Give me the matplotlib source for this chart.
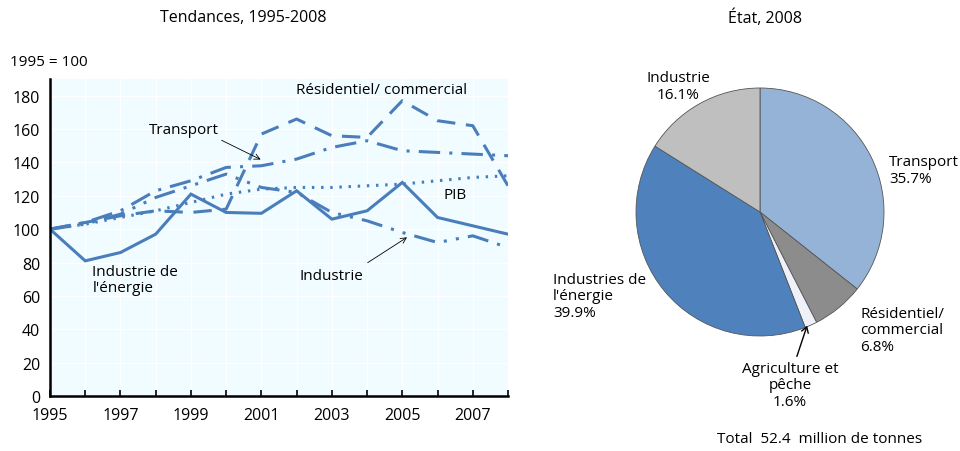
import numpy as np
import matplotlib
matplotlib.use("Agg")
import matplotlib.pyplot as plt
from matplotlib.patches import FancyArrowPatch

plt.rcParams['font.family'] = ['Open Sans', 'DejaVu Sans']

years = np.arange(1995, 2009)
energie = [100, 81, 86, 97, 121, 110, 109.5, 123, 106, 111, 128, 107, 102, 97]
residentiel = [100, 104, 108, 111, 110, 112, 157, 166, 156, 155, 177, 165, 162, 126]
transport = [100, 104, 111, 123, 129, 137, 138, 142, 149, 153, 147, 146, 145, 144]
industrie = [100, 103, 109, 119, 126, 133, 125, 122, 110, 105, 98, 92, 96, 89]
pib = [100, 103, 107, 111, 116, 121, 124, 125, 125, 126, 127, 129, 131, 132]

pie_labels = ["Transport", "Résidentiel/\ncommercial", "Agriculture et\npêche",
              "Industries de\nl'énergie", "Industrie"]
pie_values = [35.7, 6.8, 1.6, 39.9, 16.1]
pie_colors = ["#95b3d7", "#8c8c8c", "#eef1f8", "#4f81bd", "#bfbfbf"]

blue = "#4a7ebb"
W, H = 960, 452
fig = plt.figure(figsize=(W / 100, H / 100), dpi=100)


def px(x, y):
    return x / W, 1 - y / H


# ---- left panel: trends
ax = fig.add_axes([50 / W, 1 - 397 / H, 458 / W, 317 / H])
ax.set_facecolor("#f0fcff")
ax.plot(years, energie, color=blue, lw=2.2, solid_joinstyle='miter')
ax.plot(years, residentiel, color=blue, lw=2.2, dashes=(6, 3.5))
ax.plot(years, transport, color=blue, lw=2.2, dashes=(7, 3, 1, 3))
ax.plot(years, industrie, color=blue, lw=2.2, dashes=(7, 3, 1, 3, 1, 3))
ax.plot(years, pib, color=blue, lw=2.2, dashes=(0.8, 2.2))

ax.set_xlim(1995, 2008)
ax.set_ylim(0, 190)
ax.set_yticks(range(0, 181, 20))
ax.set_xticks(years)
ax.set_xticklabels([str(y) if (y - 1995) % 2 == 0 else "" for y in years])
ax.grid(True, color="white", lw=1)
ax.set_axisbelow(True)
for s in ["top", "right"]:
    ax.spines[s].set_visible(False)
ax.spines["left"].set_linewidth(1.8)
ax.spines["bottom"].set_linewidth(1.8)
ax.tick_params(axis="y", length=0, labelsize=11.5, pad=7)
ax.tick_params(axis="x", length=4, width=1.2, direction="in", labelsize=11.5, pad=8)

ax.text(2004.4, 184, "Résidentiel/ commercial", ha="center", va="center", fontsize=11)
ax.text(1998.8, 160, "Transport", ha="center", va="center", fontsize=11)
ax.annotate("", xy=(2001.05, 141), xytext=(1999.8, 154),
            arrowprops=dict(arrowstyle="->", color="black", lw=0.6))
ax.text(2006.5, 121, "PIB", ha="center", va="center", fontsize=11)
ax.text(1996.2, 70, "Industrie de\nl'énergie", ha="left", va="center", fontsize=11,
        linespacing=1.1)
ax.text(2003.0, 72, "Industrie", ha="center", va="center", fontsize=11)
ax.annotate("", xy=(2005.2, 96), xytext=(2003.95, 79),
            arrowprops=dict(arrowstyle="->", color="black", lw=0.6))

fig.text(*px(243, 18), "Tendances, 1995-2008", ha="center", va="center", fontsize=11.5)
fig.text(*px(10, 63), "1995 = 100", ha="left", va="center", fontsize=11)

# ---- right panel: pie
r = 124
pax = fig.add_axes([(760 - r) / W, 1 - (213 + r) / H, 2 * r / W, 2 * r / H])
pax.pie(pie_values, colors=pie_colors, startangle=90, counterclock=False,
        wedgeprops=dict(edgecolor="#555555", linewidth=0.6))
pax.set_xlim(-1, 1)
pax.set_ylim(-1, 1)

pct = ["%.1f%%" % v for v in pie_values]
fig.text(*px(889, 171), pie_labels[0] + "\n" + pct[0], ha="left", va="center",
         fontsize=11, linespacing=1.1)
fig.text(*px(860, 331), pie_labels[1] + "\n" + pct[1], ha="left", va="center",
         fontsize=11, linespacing=1.1)
fig.text(*px(790, 386), pie_labels[2] + "\n" + pct[2], ha="center", va="center",
         fontsize=11, linespacing=1.1)
fig.text(*px(553, 297), pie_labels[3] + "\n" + pct[3], ha="left", va="center",
         fontsize=11, linespacing=1.1)
fig.text(*px(678, 87), pie_labels[4] + "\n" + pct[4], ha="center", va="center",
         fontsize=11, linespacing=1.1)
fig.add_artist(FancyArrowPatch(
    px(796, 360), px(808, 324), transform=fig.transFigure,
    arrowstyle="->,head_length=4,head_width=2.5", color="black", lw=1.0))

fig.text(*px(765, 18), "État, 2008", ha="center", va="center", fontsize=11.5)
fig.text(*px(820, 440), "Total  52.4  million de tonnes", ha="center", va="center",
         fontsize=11)

fig.savefig("out.png", dpi=100)
